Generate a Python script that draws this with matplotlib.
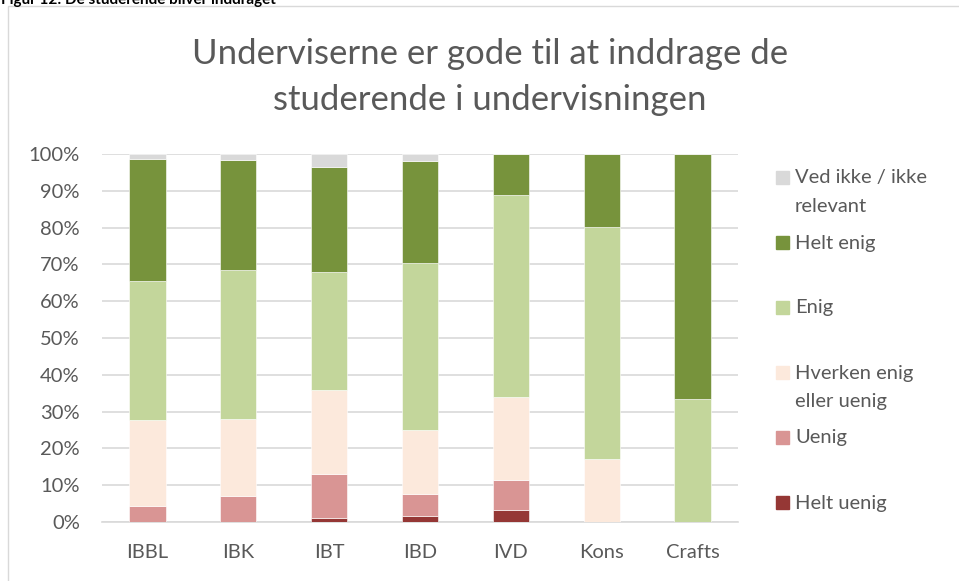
import numpy as np
import matplotlib.pyplot as plt
from matplotlib.patches import Rectangle

plt.rcParams['font.family'] = ['Lato', 'DejaVu Sans']

# data (percent of answers)
uddannelser = ['IBBL', 'IBK', 'IBT', 'IBD', 'IVD', 'Kons', 'Crafts']
helt_uenig = [0.0, 0.0, 1.2, 1.7, 3.3, 0.0, 0.0]
uenig = [4.4, 7.1, 11.9, 5.8, 8.0, 0.0, 0.0]
hverken = [23.2, 21.0, 22.7, 17.4, 22.7, 17.1, 0.0]
enig = [37.8, 40.4, 32.1, 45.4, 54.9, 63.0, 33.4]
helt_enig = [33.2, 29.9, 28.6, 27.8, 11.1, 19.9, 66.6]
ved_ikke = [1.4, 1.6, 3.5, 1.9, 0.0, 0.0, 0.0]

serier = [
    ('Helt uenig', helt_uenig, '#953735'),
    ('Uenig', uenig, '#D99594'),
    ('Hverken enig\neller uenig', hverken, '#FCE9DC'),
    ('Enig', enig, '#C3D69B'),
    ('Helt enig', helt_enig, '#77933C'),
    ('Ved ikke / ikke\nrelevant', ved_ikke, '#D9D9D9'),
]

W, H = 959, 581
fig = plt.figure(figsize=(W / 100, H / 100), dpi=100)
ax = fig.add_axes([102 / W, 1 - 522 / H, 636 / W, 368 / H])

x = np.arange(len(uddannelser))
bund = np.zeros(len(uddannelser))
for navn, vals, farve in serier:
    vals = np.array(vals)
    ax.bar(x, vals, 0.4, bottom=bund, color=farve, edgecolor='white',
           linewidth=0.4, zorder=3)
    bund += vals

ax.set_xlim(-0.5, len(uddannelser) - 0.5)
ax.set_ylim(0, 100)
ax.set_yticks(np.arange(0, 101, 10))
ax.set_yticklabels([f'{v}%' for v in range(0, 101, 10)])
ax.set_xticks(x)
ax.set_xticklabels(uddannelser)
ax.tick_params(length=0, labelsize=14.5, colors='#595959')
ax.tick_params(axis='y', pad=16)
ax.tick_params(axis='x', pad=16)
ax.grid(axis='y', color='#D9D9D9', linewidth=1.2, zorder=0)
for s in ['top', 'right', 'left']:
    ax.spines[s].set_visible(False)
ax.spines['bottom'].set_color('#D9D9D9')
ax.spines['bottom'].set_linewidth(1.2)

fig.text(490 / W, 1 - 77 / H,
         'Underviserne er gode til at inddrage de\nstuderende i undervisningen',
         ha='center', va='center', fontsize=25, color='#595959',
         linespacing=1.5)

# legend, drawn by hand so the box sits on the first text line
for i, (navn, vals, farve) in enumerate(reversed(serier)):
    yp = 178 + 65 * i
    fig.add_artist(Rectangle((776 / W, 1 - (yp + 6) / H), 13 / W, 13 / H,
                             transform=fig.transFigure, color=farve))
    for j, linje in enumerate(navn.split('\n')):
        fig.text(795 / W, 1 - (yp + 29 * j) / H, linje, va='center',
                 fontsize=14.5, color='#595959')

# chart frame and cut-off caption
fig.add_artist(Rectangle((8 / W, -0.05), 1.0, 1 - 6 / H + 0.05,
                         transform=fig.transFigure, fill=False,
                         edgecolor='#D9D9D9', linewidth=1))
fig.text(1 / W, 1 - 4 / H, 'Figur 12: De studerende bliver inddraget',
         va='baseline', fontsize=11, fontweight='bold', color='black')

fig.savefig('out.png', dpi=100)
